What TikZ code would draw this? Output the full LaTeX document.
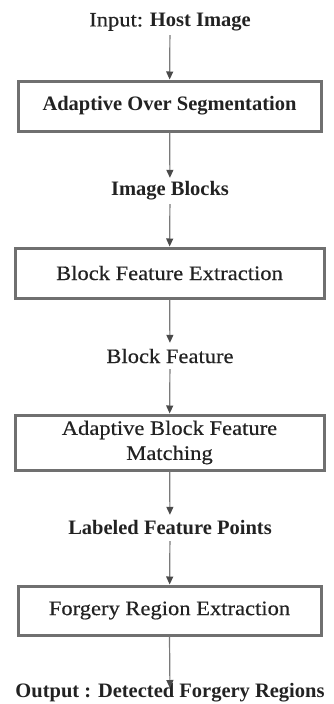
\documentclass[tikz,border=0pt]{standalone}
\usepackage{fontspec}
\setmainfont{Liberation Serif}
% slightly widened, heavier face for the plain labels
\newfontfamily\plainwide{Liberation Serif}[FakeStretch=1.1, FakeBold=0.35]
\usetikzlibrary{arrows.meta}
\definecolor{framegray}{HTML}{707070}
\definecolor{linegray}{HTML}{7A7A7A}
\definecolor{tipgray}{HTML}{4A4A4A}
\definecolor{inkgray}{HTML}{222222}
\tikzset{
  flowbox/.style={draw=framegray, line width=3pt, fill=white, inner sep=0pt,
    align=center, text=inkgray, font=\fontsize{20.5}{25}\selectfont},
  flowlabel/.style={inner sep=0pt, minimum height=26pt, text=inkgray,
    font=\fontsize{20.5}{25}\selectfont},
  flowarrow/.style={draw=linegray, line width=1.2pt,
    -{Triangle[width=7pt,length=8pt,color=tipgray]}}
}
\begin{document}
\begin{tikzpicture}[x=1pt,y=-1pt]
  \useasboundingbox (0,0) rectangle (333,704);
  % inputs, intermediate results and output
  \node[flowlabel] (in)  at (170,22)  {{\plainwide Input:} \textbf{Host Image}};
  \node[flowlabel] (blk) at (170,191) {\textbf{Image Blocks}};
  \node[flowlabel] (fea) at (170,356) {\plainwide Block Feature};
  \node[flowlabel] (lab) at (170,528) {\textbf{Labeled Feature Points}};
  \node[flowlabel] (out) at (170,693) {\textbf{Output : Detected Forgery Regions}};
  % processing stages
  \node[flowbox, minimum width=303pt, minimum height=50pt] (s1) at (169.5,106)
    {\textbf{Adaptive Over Segmentation}};
  \node[flowbox, minimum width=309pt, minimum height=50pt] (s2) at (169.5,273)
    {\plainwide Block Feature Extraction};
  \node[flowbox, minimum width=309pt, minimum height=55pt] (s3) at (169.5,442.5)
    {\plainwide Adaptive Block Feature\\\plainwide Matching};
  \node[flowbox, minimum width=303pt, minimum height=49pt] (s4) at (169.5,610.5)
    {\plainwide Forgery Region Extraction};
  % flow connectors
  \draw[flowarrow] (in)  -- (s1);
  \draw[flowarrow] (s1)  -- (blk);
  \draw[flowarrow] (blk) -- (s2);
  \draw[flowarrow] (s2)  -- (fea);
  \draw[flowarrow] (fea) -- (s3);
  \draw[flowarrow] (s3)  -- (lab);
  \draw[flowarrow] (lab) -- (s4);
  \draw[flowarrow, shorten >=5pt] (s4.south) -- (out.center);
\end{tikzpicture}
\end{document}
